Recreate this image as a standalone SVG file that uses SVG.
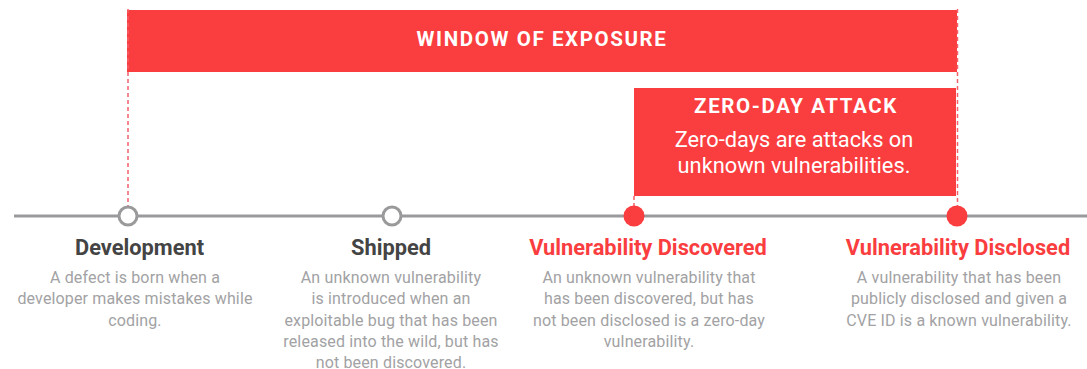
<svg xmlns="http://www.w3.org/2000/svg" width="1087" height="369" viewBox="0 0 1087 369">
<style>
.bar{fill:#fa3d3f}
.dash{stroke:#f5606a;stroke-width:1.5;stroke-dasharray:4 3;fill:none}
.tl{stroke:#9a9a9d;stroke-width:3;fill:none}
.open{fill:#fff;stroke:#9a9a9d;stroke-width:3}
.filled{fill:#fa3d3f}
.t{font-family:Roboto,"Liberation Sans",sans-serif;text-anchor:middle}
.wh{fill:#fff;font-weight:bold;font-size:20.5px;letter-spacing:1.6px}
.zd{fill:#fff;font-size:21.8px}
.h{font-weight:bold;font-size:21.8px}
.dk{fill:#444}
.rd{fill:#fa3d3f}
.d{fill:#a2a2a4;font-size:16px;letter-spacing:0.15px}
</style>
<g id="window-of-exposure">
<rect class="bar" x="127" y="10" width="830" height="62"/>
<text class="t wh" x="542" y="46">WINDOW OF EXPOSURE</text>
</g>
<g id="zero-day-attack">
<rect class="bar" x="634" y="88" width="322" height="108"/>
<text class="t wh" x="796" y="113">ZERO-DAY ATTACK</text>
<text class="t zd" x="794" y="147">Zero-days are attacks on</text>
<text class="t zd" x="794" y="173">unknown vulnerabilities.</text>
</g>
<g id="connectors">
<line class="tl" x1="14" y1="216" x2="1087" y2="216"/>
<line class="dash" x1="128" y1="9" x2="128" y2="206"/>
<line class="dash" x1="957.5" y1="9" x2="957.5" y2="206"/>
<line class="dash" x1="634" y1="196" x2="634" y2="206"/>
</g>
<g id="development">
<circle class="open" cx="128" cy="216" r="9"/>
<text class="t h dk" x="139.5" y="255">Development</text>
<text class="t d" x="135" y="282.5">A defect is born when a</text>
<text class="t d" x="135" y="304">developer makes mistakes while</text>
<text class="t d" x="135" y="325.5">coding.</text>
</g>
<g id="shipped">
<circle class="open" cx="392" cy="216" r="9"/>
<text class="t h dk" x="391" y="255">Shipped</text>
<text class="t d" x="391" y="282.5">An unknown vulnerability</text>
<text class="t d" x="391" y="304">is introduced when an</text>
<text class="t d" x="391" y="325.5">exploitable bug that has been</text>
<text class="t d" x="391" y="347">released into the wild, but has</text>
<text class="t d" x="391" y="367.5">not been discovered.</text>
</g>
<g id="vulnerability-discovered">
<circle class="filled" cx="634" cy="216" r="10.5"/>
<text class="t h rd" x="648" y="255">Vulnerability Discovered</text>
<text class="t d" x="649" y="282.5">An unknown vulnerability that</text>
<text class="t d" x="649" y="304">has been discovered, but has</text>
<text class="t d" x="649" y="325.5">not been disclosed is a zero-day</text>
<text class="t d" x="649" y="347">vulnerability.</text>
</g>
<g id="vulnerability-disclosed">
<circle class="filled" cx="957" cy="216" r="10.5"/>
<text class="t h rd" x="958" y="255">Vulnerability Disclosed</text>
<text class="t d" x="959" y="282.5">A vulnerability that has been</text>
<text class="t d" x="959" y="304">publicly disclosed and given a</text>
<text class="t d" x="959" y="325.5">CVE ID is a known vulnerability.</text>
</g>
</svg>
